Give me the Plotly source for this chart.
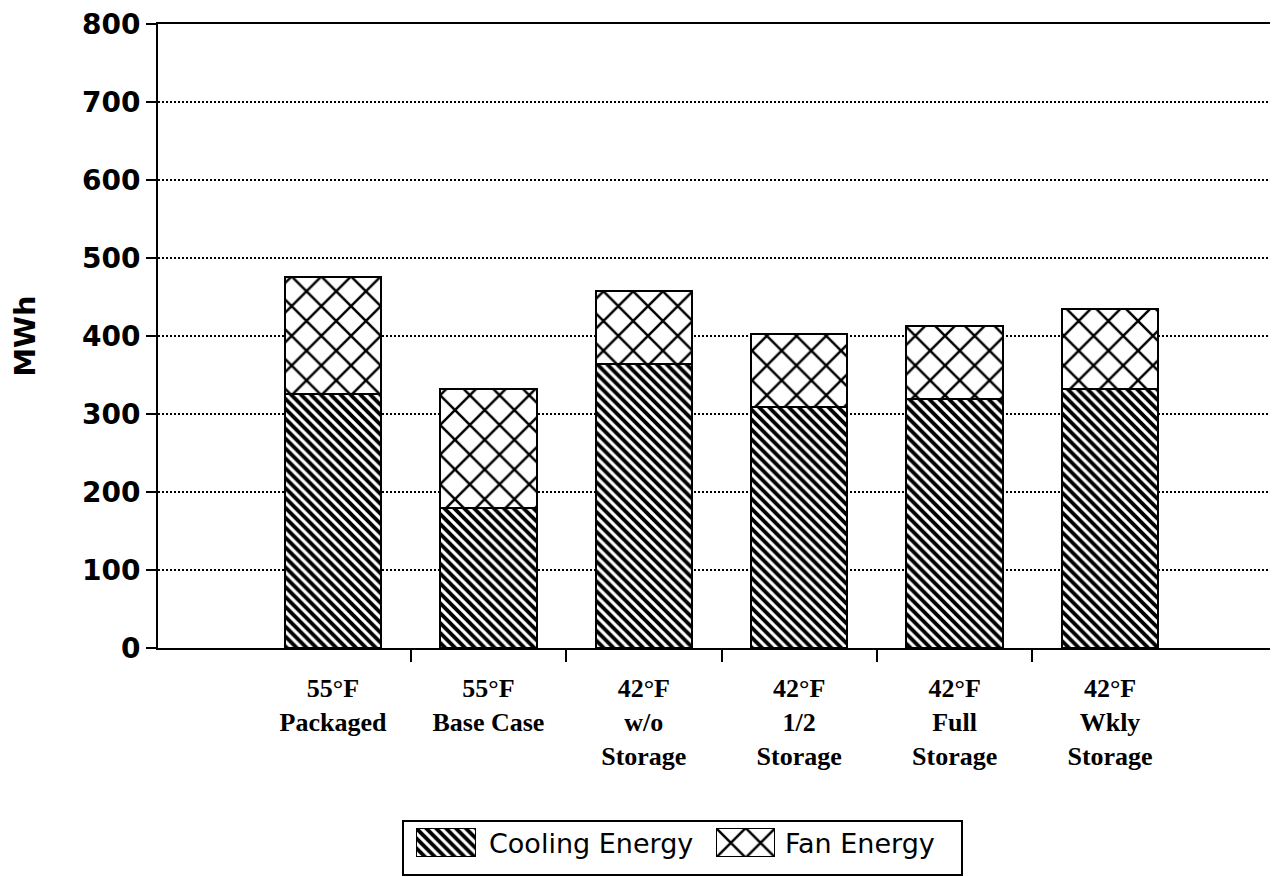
import plotly.graph_objects as go

# ---- data ----
categories = ["55°F<br>Packaged", "55°F<br>Base Case", "42°F<br>w/o<br>Storage",
              "42°F<br>1/2<br>Storage", "42°F<br>Full<br>Storage", "42°F<br>Wkly<br>Storage"]
positions = [1, 2, 3, 4, 5, 6]
cooling = [326, 180, 364, 309, 319, 332]
fan = [150, 152, 94, 93, 94, 103]
series_names = ["Cooling Energy", "Fan Energy"]
y_ticks = [0, 100, 200, 300, 400, 500, 600, 700, 800]

# ---- layout geometry (page offset of 8px from default body margin) ----
OFF = 8
W, H = 1270, 869
L, R, T = 150, 2, 16
plot_w = W - L - R
paper_h = H - T
bottom_px = 648  # page y of the zero line
main_dom0 = (OFF + H - bottom_px) / paper_h

def px_x(p):
    return (p - OFF - L) / plot_w

def px_y(p):
    return (OFF + H - p) / paper_h

edge = dict(color="black", width=2.5)
cool_marker = dict(color="white", line=edge,
                   pattern=dict(shape="\\", size=7, solidity=0.55, fgcolor="black",
                                bgcolor="white", fillmode="replace"))
fan_marker = dict(color="white", line=edge,
                  pattern=dict(shape="x", size=21, solidity=0.22, fgcolor="black",
                               bgcolor="white", fillmode="replace"))

fig = go.Figure()
fig.add_trace(go.Bar(x=positions, y=cooling, width=0.62, name=series_names[0],
                     marker=cool_marker, showlegend=False))
fig.add_trace(go.Bar(x=positions, y=fan, width=0.62, name=series_names[1],
                     marker=fan_marker, showlegend=False))

# legend swatches (drawn as bars in small helper axes)
fig.add_trace(go.Bar(x=[0], y=[1], width=1, xaxis="x2", yaxis="y2", marker=cool_marker,
                     showlegend=False, hoverinfo="skip"))
fig.add_trace(go.Bar(x=[0], y=[1], width=1, xaxis="x3", yaxis="y3", marker=fan_marker,
                     showlegend=False, hoverinfo="skip"))

boundaries = [(a + b) / 2 for a, b in zip(positions[:-1], positions[1:])]

hidden = dict(visible=False, fixedrange=True)
sw_y = [px_y(857), px_y(828)]

fig.update_layout(
    width=W, height=H,
    margin=dict(l=L, r=R, t=T, b=0, autoexpand=False),
    paper_bgcolor="white", plot_bgcolor="white",
    barmode="stack", bargap=0,
    xaxis=dict(domain=[0, 1], range=[-0.126, 7.068], tickmode="array",
               tickvals=positions, ticktext=categories, ticks="",
               tickfont=dict(family="Liberation Serif", size=26, color="black", weight="bold"),
               ticklabelstandoff=16, ticklabeloverflow="allow",
               showline=True, linecolor="black", linewidth=2, mirror=True,
               showgrid=False, zeroline=False,
               minor=dict(tickmode="array", tickvals=boundaries, ticks="outside",
                          ticklen=12, tickwidth=2, tickcolor="black", showgrid=False)),
    yaxis=dict(domain=[main_dom0, 1], range=[0, 800], tickmode="array",
               tickvals=y_ticks, ticks="outside", ticklen=10, tickwidth=2,
               tickcolor="black", ticklabeloverflow="allow",
               tickfont=dict(family="DejaVu Sans", size=28, color="black", weight="bold"),
               showline=True, linecolor="black", linewidth=2, mirror=True,
               showgrid=True, gridcolor="black", gridwidth=1.5, griddash="2px,2px",
               zeroline=False,
               title=dict(text="MWh", standoff=38,
                          font=dict(family="DejaVu Sans", size=29, color="black",
                                    weight="bold"))),
    xaxis2=dict(domain=[px_x(416), px_x(476)], range=[-0.5, 0.5], anchor="y2", **hidden),
    yaxis2=dict(domain=sw_y, range=[0, 1], anchor="x2", **hidden),
    xaxis3=dict(domain=[px_x(716), px_x(775)], range=[-0.5, 0.5], anchor="y3", **hidden),
    yaxis3=dict(domain=sw_y, range=[0, 1], anchor="x3", **hidden),
    shapes=[dict(type="rect", xref="paper", yref="paper",
                 x0=px_x(403), x1=px_x(962), y0=px_y(875), y1=px_y(821),
                 line=dict(color="black", width=2), fillcolor="rgba(0,0,0,0)",
                 layer="below")],
    annotations=[
        dict(text=series_names[0], xref="paper", yref="paper", x=px_x(487), y=px_y(843),
             xanchor="left", yanchor="middle", showarrow=False,
             font=dict(family="DejaVu Sans", size=27, color="black")),
        dict(text=series_names[1], xref="paper", yref="paper", x=px_x(783), y=px_y(843),
             xanchor="left", yanchor="middle", showarrow=False,
             font=dict(family="DejaVu Sans", size=27, color="black")),
    ],
)

fig.write_html("out.html")
